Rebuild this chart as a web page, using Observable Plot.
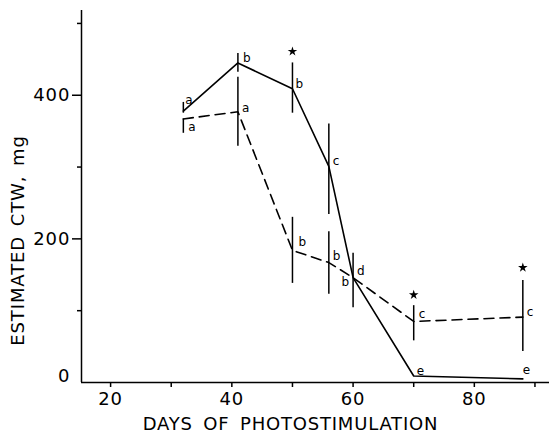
<!DOCTYPE html>
<html><head><meta charset="utf-8">
<script src="https://cdn.jsdelivr.net/npm/d3@7"></script>
<script src="https://cdn.jsdelivr.net/npm/@observablehq/plot@0.6"></script>
<style>body{margin:0;background:#fff}</style>
</head><body><div id="chart"></div>
<script>
const days = [32, 41, 50, 56, 60, 70, 88];
const solidValues = [378, 445, 409, 301, 146, 9, 5];
const solidLow = [375, 432, 375, 234, 146, 9, 5];
const solidHigh = [390, 458, 445, 360, 146, 9, 5];
const solidLetters = ["a", "b", "b", "c", "d", "e", "e"];
const dashedValues = [367, 377, 184, 167, 146, 85, 91];
const dashedLow = [347, 329, 138, 123, 104, 58, 43];
const dashedHigh = [367, 425, 230, 210, 180, 107, 142];
const dashedLetters = ["a", "a", "b", "b", "b", "c", "c"];
const starDays = [50, 70, 88];
const starValues = [461, 122, 160];
const yMajorTicks = [200, 400];
const yZeroTick = [0];
const yMinorTicks = [100, 300, 500];
const xMajorTicks = [20, 40, 60, 80];
const xMinorTicks = [30, 50, 70, 90];
const xLabel = "DAYS OF PHOTOSTIMULATION";
const yLabel = "ESTIMATED CTW, mg";

// layout: pixel nudges of the letter labels (not data)
const solidNudge = [[2, -11], [5, -5], [3, -5], [4, -5], [4, -6], [3, -5], [0, -9]];
const dashedNudge = [[5, 8], [4, -4], [6, -8], [4, -6], [-4, 5], [5, -7], [4, -5]];

const solid = days.map((d, i) => ({day: d, v: solidValues[i], lo: solidLow[i], hi: solidHigh[i], t: solidLetters[i]}));
const dashed = days.map((d, i) => ({day: d, v: dashedValues[i], lo: dashedLow[i], hi: dashedHigh[i], t: dashedLetters[i]}));
const stars = starDays.map((d, i) => ({day: d, v: starValues[i]}));

function letterMarks(rows, nudges) {
  return rows.map((r, i) => Plot.text([r], {
    x: "day", y: "v", text: "t", fill: "#000", fontSize: 12,
    textAnchor: nudges[i][0] < 0 ? "end" : "start",
    dx: nudges[i][0], dy: nudges[i][1]
  }));
}

const font = "DejaVu Sans, sans-serif";
const chart = Plot.plot({
  width: 552, height: 436,
  marginLeft: 81, marginRight: 3, marginTop: 10, marginBottom: 54,
  x: {domain: [15.2, 92.4], axis: null},
  y: {domain: [0, 518], axis: null},
  style: {fontFamily: font, fontSize: "18px", color: "#000", background: "#fff"},
  marks: [
    Plot.ruleX([15.2], {y1: 0, y2: 518, stroke: "#000", strokeWidth: 1.5}),
    Plot.ruleY([0], {x1: 15.2, x2: 92.4, stroke: "#000", strokeWidth: 1.5}),
    Plot.axisY({ticks: yMajorTicks, tickSize: 9, tickPadding: 2, fontSize: 18, strokeWidth: 1.5, label: null, tickFormat: d => String(d)}),
    Plot.axisY({ticks: yZeroTick, tickSize: 0, tickPadding: 11, dy: -6, fontSize: 18, label: null, tickFormat: d => String(d)}),
    Plot.axisY({ticks: yMinorTicks, tickSize: 4, text: null, strokeWidth: 1.5, label: null}),
    Plot.axisX({ticks: xMajorTicks, tickSize: 5, tickPadding: 5, fontSize: 18, strokeWidth: 1.5, label: null, tickFormat: d => String(d)}),
    Plot.axisX({ticks: xMinorTicks, tickSize: 5, text: null, strokeWidth: 1.5, label: null}),
    Plot.text([xLabel], {frameAnchor: "bottom", lineAnchor: "middle", textAnchor: "middle", dy: 42, dx: -25, fontSize: 18, fill: "#000"}),
    Plot.text([yLabel], {frameAnchor: "left", lineAnchor: "middle", textAnchor: "middle", rotate: -90, dx: -63, dy: 44, fontSize: 18, fill: "#000"}),
    Plot.ruleX(solid.filter(d => d.hi > d.lo), {x: "day", y1: "lo", y2: "hi", stroke: "#000", strokeWidth: 1.5}),
    Plot.ruleX(dashed.filter(d => d.hi > d.lo), {x: "day", y1: "lo", y2: "hi", stroke: "#000", strokeWidth: 1.5}),
    Plot.line(solid, {x: "day", y: "v", stroke: "#000", strokeWidth: 1.6}),
    Plot.line(dashed, {x: "day", y: "v", stroke: "#000", strokeWidth: 1.6, strokeDasharray: "10,6"}),
    Plot.dot(stars, {x: "day", y: "v", r: 3, fill: "#000", symbol: "star"}),
    ...letterMarks(solid, solidNudge),
    ...letterMarks(dashed, dashedNudge)
  ]
});
d3.select(chart).selectAll("text").each(function () {
  const t = this.textContent;
  const s = d3.select(this);
  if (t === xLabel) s.style("letter-spacing", "0.8px").style("word-spacing", "4px");
  else if (t === yLabel) s.style("letter-spacing", "0.9px").style("word-spacing", "3px");
  else if (/^\d+$/.test(t)) s.style("letter-spacing", "1px");
});
document.getElementById("chart").appendChild(chart);
</script>
</body></html>
